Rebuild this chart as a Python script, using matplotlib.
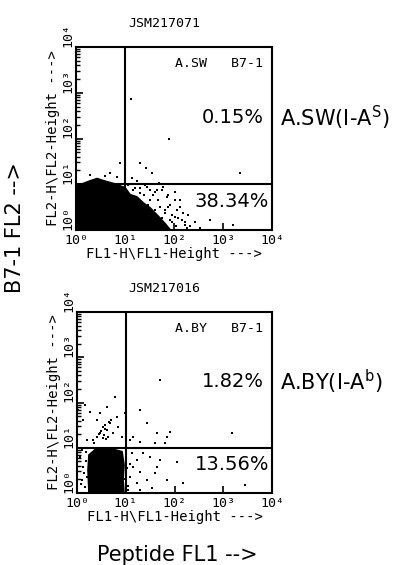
import numpy as np
import matplotlib
matplotlib.use("Agg")
import matplotlib.pyplot as plt
from matplotlib.ticker import LogLocator, NullFormatter

plt.rcParams['mathtext.fontset'] = 'dejavusans'

# ---- data (log10 units, decades) ----
# top panel: JSM217071, A.SW
sw_core_lx = [0.00, 0.00, 0.12, 0.29, 0.43, 0.57, 0.74, 0.90, 1.00, 1.10, 1.24, 1.37, 1.51,
              1.61, 1.71, 1.82, 1.92]
sw_core_ly = [0.00, 0.94, 1.00, 1.07, 1.12, 1.07, 1.02, 0.96, 0.92, 0.77, 0.72, 0.59, 0.48,
              0.37, 0.26, 0.13, 0.00]
sw_dots_lx = [1.12, 1.90, 0.90, 1.31, 1.43, 1.55, 3.35, 1.14, 0.69, 0.29, 0.84, 0.59, 1.24,
              1.78, 2.02, 2.12, 2.18, 2.02, 1.92, 2.73, 1.86, 1.65, 1.45, 1.31, 1.51, 1.71,
              1.82, 1.57, 1.88, 2.06, 2.16, 2.22, 3.20, 2.27, 1.06, 1.20, 1.35, 1.69, 1.96,
              1.39, 1.27, 1.47, 1.61, 1.76, 1.96,
              1.31, 1.51, 1.61, 1.76, 1.88, 2.02, 1.67, 1.92, 2.12, 1.82, 1.96, 2.08, 2.22,
              2.33, 2.43, 2.53, 2.29, 2.04, 1.41, 1.16]
sw_dots_ly = [2.86, 1.99, 1.46, 1.46, 1.36, 1.25, 1.25, 1.14, 1.25, 1.20, 1.16, 1.18, 1.07,
              0.94, 0.83, 0.66, 0.37, 0.28, 0.22, 0.22, 0.72, 0.87, 0.94, 0.81, 0.66, 0.50,
              0.37, 0.77, 0.50, 0.44, 0.22, 0.11, 0.11, 0.04, 0.98, 0.92, 1.01, 1.03, 1.01,
              0.77, 0.66, 0.55, 0.44, 0.26, 0.17,
              0.92, 0.87, 0.83, 0.87, 0.77, 0.66, 0.66, 0.55, 0.50, 0.44, 0.33, 0.26, 0.17,
              0.09, 0.17, 0.04, 0.33, 0.09, 0.98, 0.87]

# bottom panel: JSM217016, A.BY
by_core_lx = [0.25, 0.23, 0.25, 0.37, 0.57, 0.78, 0.92, 0.96, 0.94, 0.96]
by_core_ly = [0.00, 0.51, 0.84, 0.95, 0.97, 0.95, 0.91, 0.62, 0.29, 0.00]
by_dots_lx = [0.16, 0.27, 0.47, 0.78, 0.62, 0.41, 0.53, 0.62, 0.47, 0.41, 0.68, 0.74, 0.84,
              0.92, 0.82, 0.33, 0.53, 0.64, 0.21, 0.12, 0.02, 0.98, 1.70, 1.29, 1.44, 1.64,
              1.85, 1.91, 3.18, 1.15, 1.09, 1.29, 1.60, 1.81, 1.13, 1.23, 1.35, 1.50, 1.15,
              1.29, 1.60, 1.44, 1.23, 1.64, 1.85, 2.05, 2.17, 3.45, 1.09, 1.05, 1.54, 1.29,
              1.70, 0.10, 0.12, 0.06, 0.16, 0.21, 0.10,
              0.45, 0.50, 0.57, 0.58, 0.66, 0.70, 0.55, 0.60, 0.35, 0.14, 0.18, 0.08, 1.00,
              1.02, 0.99, 1.04, 1.08, 0.19, 0.24]
by_dots_ly = [1.94, 1.79, 1.77, 2.12, 1.90, 1.61, 1.46, 1.39, 1.33, 1.24, 1.55, 1.33, 1.46,
              1.24, 1.68, 1.17, 1.22, 1.24, 1.17, 1.61, 1.83, 1.77, 2.50, 1.83, 1.55, 1.33,
              1.24, 1.35, 1.33, 1.24, 1.17, 1.13, 1.10, 1.10, 0.88, 0.73, 0.88, 0.80, 0.57,
              0.46, 0.44, 0.29, 0.22, 0.57, 0.29, 0.68, 0.22, 0.18, 0.35, 0.07, 0.11, 0.07,
              0.73, 0.29, 0.57, 0.80, 0.13, 0.35, 0.95,
              1.30, 1.36, 1.42, 1.50, 1.58, 1.62, 1.28, 1.20, 1.10, 0.45, 0.70, 0.20, 0.85,
              0.55, 0.30, 0.15, 0.65, 0.90, 0.05]

panels = [
    dict(title="JSM217071", tag="A.SW   B7-1", upper="0.15%", lower="38.34%",
         side="A.SW(I-A$^{\\mathrm{S}}$)",
         core=(sw_core_lx, sw_core_ly), dots=(sw_dots_lx, sw_dots_ly),
         box=(76, 47, 196, 183)),
    dict(title="JSM217016", tag="A.BY   B7-1", upper="1.82%", lower="13.56%",
         side="A.BY(I-A$^{\\mathrm{b}}$)",
         core=(by_core_lx, by_core_ly), dots=(by_dots_lx, by_dots_ly),
         box=(77, 312, 195, 181)),
]
tick_labels = ["10\u2070", "10\u00b9", "10\u00b2", "10\u00b3", "10\u2074"]

W, H = 402, 565
fig = plt.figure(figsize=(W / 100, H / 100), dpi=100)
mono = "DejaVu Sans Mono"

for p in panels:
    x0, y0, w, h = p["box"]
    ax = fig.add_axes([x0 / W, 1 - (y0 + h) / H, w / W, h / H])
    ax.set_xscale("log")
    ax.set_yscale("log")
    ax.set_xlim(1, 1e4)
    ax.set_ylim(1, 1e4)

    cx = 10 ** np.array(p["core"][0])
    cy = 10 ** np.array(p["core"][1])
    ax.fill(cx, cy, color="black", lw=1.5, zorder=2)
    ax.scatter(10 ** np.array(p["dots"][0]), 10 ** np.array(p["dots"][1]),
               s=3.5, color="black", marker="s", lw=0, zorder=2)

    ax.axvline(10, color="black", lw=1.5, zorder=3)
    ax.axhline(10, color="black", lw=1.5, zorder=3)
    for s in ax.spines.values():
        s.set_linewidth(1.5)

    ax.set_xticks([1, 10, 100, 1000, 10000])
    ax.set_yticks([1, 10, 100, 1000, 10000])
    ax.set_xticklabels(tick_labels, family=mono, fontsize=9.5)
    ax.set_yticklabels(tick_labels, family=mono, fontsize=9.5, rotation=90, va="bottom")
    ax.xaxis.set_minor_locator(LogLocator(base=10, subs=np.arange(2, 10)))
    ax.yaxis.set_minor_locator(LogLocator(base=10, subs=np.arange(2, 10)))
    ax.xaxis.set_minor_formatter(NullFormatter())
    ax.yaxis.set_minor_formatter(NullFormatter())
    ax.tick_params(which="major", direction="in", length=5, width=1.2)
    ax.tick_params(which="minor", direction="in", length=3, width=1)
    ax.tick_params(axis="x", which="major", pad=3)
    ax.tick_params(axis="y", which="major", pad=1)

    ax.set_xlabel("FL1-H\\FL1-Height --->", family=mono, fontsize=10, labelpad=0)
    ax.set_ylabel("FL2-H\\FL2-Height --->", family=mono, fontsize=10, labelpad=1)
    ax.text(0.45, 1.13, p["title"], transform=ax.transAxes, family=mono, fontsize=9.5,
            ha="center", va="center")

    ax.text(0.955, 0.91, p["tag"], transform=ax.transAxes, family=mono, fontsize=9.5,
            ha="right", va="center")
    ax.text(0.96, 0.615, p["upper"], transform=ax.transAxes, fontsize=14,
            ha="right", va="center")
    ax.text(0.985, 0.155, p["lower"], transform=ax.transAxes, fontsize=14,
            ha="right", va="center")
    ax.text(1.04, 0.615, p["side"], transform=ax.transAxes, fontsize=15,
            ha="left", va="center")

fig.text(15 / W, 1 - 228 / H, "B7-1 FL2 -->", rotation=90, fontsize=15,
         ha="center", va="center")
fig.text(177 / W, 1 - 555 / H, "Peptide FL1 -->", fontsize=15, ha="center", va="center")

fig.savefig("out.png", dpi=100)
